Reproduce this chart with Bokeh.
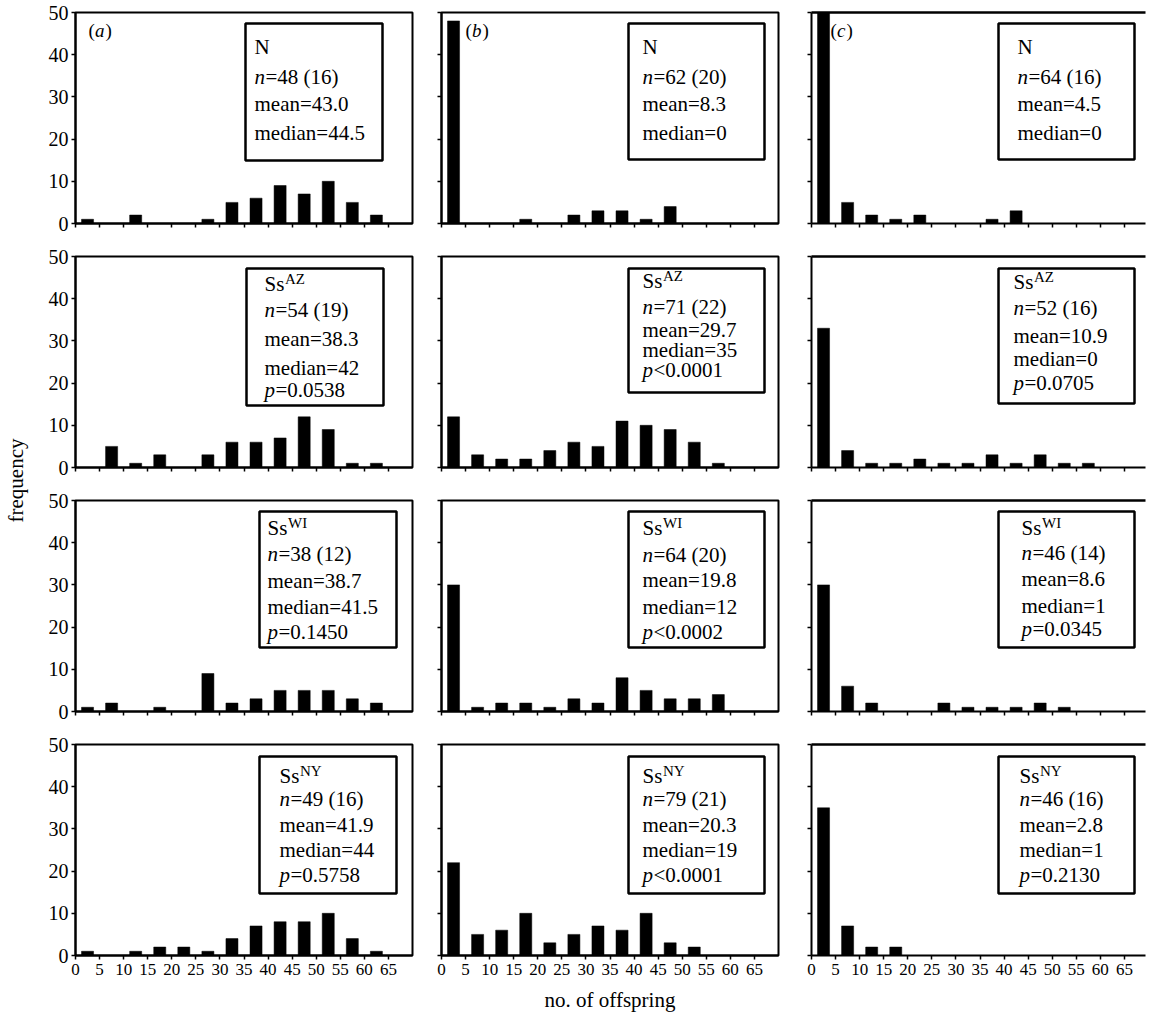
import math
from bokeh.plotting import figure
from bokeh.models import Range1d, FixedTicker, Label, BoxAnnotation, LinearAxis
from bokeh.layouts import row, column
from bokeh.core.properties import value
from bokeh.embed import file_html
from bokeh.resources import INLINE

# ---------------- data ----------------
bin_starts = [0, 5, 10, 15, 20, 25, 30, 35, 40, 45, 50, 55, 60, 65]
x_ticks = [0, 5, 10, 15, 20, 25, 30, 35, 40, 45, 50, 55, 60, 65]
y_ticks = [0, 10, 20, 30, 40, 50]
panel_tags = ["a", "b", "c"]
genotypes = ["N", "AZ", "WI", "NY"]

a_N = [1, 0, 2, 0, 0, 1, 5, 6, 9, 7, 10, 5, 2, 0]
b_N = [48, 0, 0, 1, 0, 2, 3, 3, 1, 4, 0, 0, 0, 0]
c_N = [50, 5, 2, 1, 2, 0, 0, 1, 3, 0, 0, 0, 0, 0]
a_AZ = [0, 5, 1, 3, 0, 3, 6, 6, 7, 12, 9, 1, 1, 0]
b_AZ = [12, 3, 2, 2, 4, 6, 5, 11, 10, 9, 6, 1, 0, 0]
c_AZ = [33, 4, 1, 1, 2, 1, 1, 3, 1, 3, 1, 1, 0, 0]
a_WI = [1, 2, 0, 1, 0, 9, 2, 3, 5, 5, 5, 3, 2, 0]
b_WI = [30, 1, 2, 2, 1, 3, 2, 8, 5, 3, 3, 4, 0, 0]
c_WI = [30, 6, 2, 0, 0, 2, 1, 1, 1, 2, 1, 0, 0, 0]
a_NY = [1, 0, 1, 2, 2, 1, 4, 7, 8, 8, 10, 4, 1, 0]
b_NY = [22, 5, 6, 10, 3, 5, 7, 6, 10, 3, 2, 0, 0, 0]
c_NY = [35, 7, 2, 2, 0, 0, 0, 0, 0, 0, 0, 0, 0, 0]
counts = [[a_N, b_N, c_N], [a_AZ, b_AZ, c_AZ], [a_WI, b_WI, c_WI], [a_NY, b_NY, c_NY]]

n_total = [[48, 62, 64], [54, 71, 52], [38, 64, 46], [49, 79, 46]]
n_fam = [[16, 20, 16], [19, 22, 16], [12, 20, 14], [16, 21, 16]]
means = [["43.0", "8.3", "4.5"], ["38.3", "29.7", "10.9"], ["38.7", "19.8", "8.6"], ["41.9", "20.3", "2.8"]]
medians = [["44.5", "0", "0"], ["42", "35", "0"], ["41.5", "12", "1"], ["44", "19", "1"]]
pvals = [[None, None, None],
         ["=0.0538", "<0.0001", "=0.0705"],
         ["=0.1450", "<0.0002", "=0.0345"],
         ["=0.5758", "<0.0001", "=0.2130"]]

# ---------------- layout / style ----------------
FONT = "Liberation Serif"
FRAME_W = [337, 337, 334]
FRAME_H = 211
SX = 337 / 70.0
SY = FRAME_H / 50.0
ML = [39, 24, 28]
MR = [5, 5, 1]
MT = 12
MB = 21
MB_LAST = 62
TXT = 21
SUP = 15
PLAB = 19

# legend boxes (left, right, top, bottom) in px from frame top-left
BOX = [[(170, 307, 11, 148), (187, 323, 11, 147), (187, 323, 11, 147)],
       [(171, 308, 12, 149), (187, 323, 12, 136), (187, 323, 12, 147)],
       [(184, 321, 11, 147), (187, 323, 11, 147), (187, 323, 11, 147)],
       [(184, 321, 12, 149), (187, 323, 12, 149), (187, 323, 12, 149)]]
TEXT_LEFT = [[179, 201, 206], [189, 201, 202], [192, 201, 210], [204, 201, 208]]
LINE_Y = [[(34, 64, 91, 120)] * 3,
          [(27, 53, 82, 111, 133), (24, 50, 73, 93, 113), (25, 51, 79, 102, 126)],
          [(27, 53, 80, 106, 131), (27, 54, 79, 106, 131), (27, 52, 78, 105, 128)],
          [(31, 54, 80, 105, 130)] * 3]
PLAB_POS = [(13, 18), (24, 18), (19, 18)]

def xd(px):
    return px / SX

def yd(py):
    return 50 - py / SY

def lab(p, xpx, ypx, text, size, style="normal", dx=0):
    p.add_layout(Label(x=xd(xpx), y=yd(ypx), x_offset=dx, text=text,
                       text_font=FONT, text_font_size=f"{size}px",
                       text_font_style=style, text_color="black",
                       text_align="left", text_baseline="middle"))

def make_panel(r, c):
    fw = FRAME_W[c]
    bottom = MB_LAST if r == 3 else MB
    p = figure(frame_width=fw, frame_height=FRAME_H,
               x_range=Range1d(0, fw / SX), y_range=Range1d(0, 50),
               output_backend="svg", toolbar_location=None,
               min_border_left=ML[c], min_border_right=MR[c],
               min_border_top=MT, min_border_bottom=bottom,
               background_fill_color="white", border_fill_color="white")
    p.grid.visible = False
    xax = p.below[0]
    yax = p.left[0]
    if c < 2:
        p.outline_line_color = "black"
        p.outline_line_width = 2
    else:
        p.outline_line_color = None
        top_ax = LinearAxis(ticker=FixedTicker(ticks=[]), axis_line_width=2.5,
                            axis_line_color="black", major_tick_line_color=None,
                            minor_tick_line_color=None, major_label_text_color=None)
        p.add_layout(top_ax, "above")

    centers = [b + 2.5 for b in bin_starts]
    p.vbar(x=centers, top=counts[r][c], bottom=0, width=2.5,
           fill_color="black", line_color="black", line_width=0.5)

    for ax in (xax, yax):
        ax.axis_line_width = 2
        ax.axis_line_color = "black"
        ax.major_tick_line_color = "black"
        ax.major_tick_line_width = 1.5
        ax.major_tick_in = 0
        ax.major_tick_out = 4
        ax.minor_tick_line_color = None
        ax.major_label_text_font = FONT
        ax.major_label_text_color = "black"
    xax.ticker = FixedTicker(ticks=x_ticks)
    yax.ticker = FixedTicker(ticks=y_ticks)
    xax.major_label_text_font_size = "17px"
    yax.major_label_text_font_size = "20px"
    xax.major_label_standoff = 4
    yax.major_label_standoff = 3
    if r < 3:
        xax.major_label_text_color = None
    if c > 0:
        yax.major_label_text_color = None
    if r == 3 and c == 1:
        xax.axis_label = "no. of offspring"
        xax.axis_label_text_font = FONT
        xax.axis_label_text_font_size = "21px"
        xax.axis_label_text_font_style = "normal"
        xax.axis_label_text_color = "black"
        xax.axis_label_standoff = 10

    # panel tag (a)/(b)/(c) on top row
    if r == 0:
        px, py = PLAB_POS[c]
        lab(p, px, py, "(", PLAB)
        lab(p, px, py, panel_tags[c], PLAB, "italic", dx=6.5)
        w_letter = 9.5 if c < 2 else 8.5
        lab(p, px, py, ")", PLAB, dx=6.5 + w_letter + 1)

    # legend box
    l, rr, t, b = BOX[r][c]
    p.add_layout(BoxAnnotation(left=xd(l), right=xd(rr), top=yd(t), bottom=yd(b),
                               fill_color="white", fill_alpha=1.0,
                               line_color="black", line_width=2.5, line_alpha=1.0))
    tx = TEXT_LEFT[r][c]
    ly = LINE_Y[r][c]
    if r == 0:
        lab(p, tx, ly[0], "N", TXT)
    else:
        lab(p, tx, ly[0], "Ss", TXT)
        lab(p, tx, ly[0] - 5, genotypes[r], SUP, dx=20.5)
    lab(p, tx, ly[1], "n", TXT, "italic")
    lab(p, tx, ly[1], f"={n_total[r][c]} ({n_fam[r][c]})", TXT, dx=11)
    lab(p, tx, ly[2], f"mean={means[r][c]}", TXT)
    lab(p, tx, ly[3], f"median={medians[r][c]}", TXT)
    if pvals[r][c] is not None:
        lab(p, tx, ly[4], "p", TXT, "italic")
        lab(p, tx, ly[4], pvals[r][c], TXT, dx=11)
    return p

rows = []
for r in range(4):
    rows.append(row(*[make_panel(r, c) for c in range(3)]))
grid = column(*rows)

ROW_H = MT + FRAME_H + MB
TOTAL_H = ROW_H * 3 + MT + FRAME_H + MB_LAST
ylab = figure(width=36, height=TOTAL_H, x_range=Range1d(0, 36), y_range=Range1d(0, TOTAL_H),
              x_axis_type=None, y_axis_type=None, min_border=0,
              output_backend="svg", toolbar_location=None, outline_line_color=None)
ylab.text(x=[15], y=[TOTAL_H - 480], text=["frequency"], angle=math.pi / 2,
          text_align="center", text_baseline="middle",
          text_font=value(FONT), text_font_size="21px", text_color="black")

layout = row(ylab, grid)
open("out.html", "w").write(file_html(layout, INLINE))
